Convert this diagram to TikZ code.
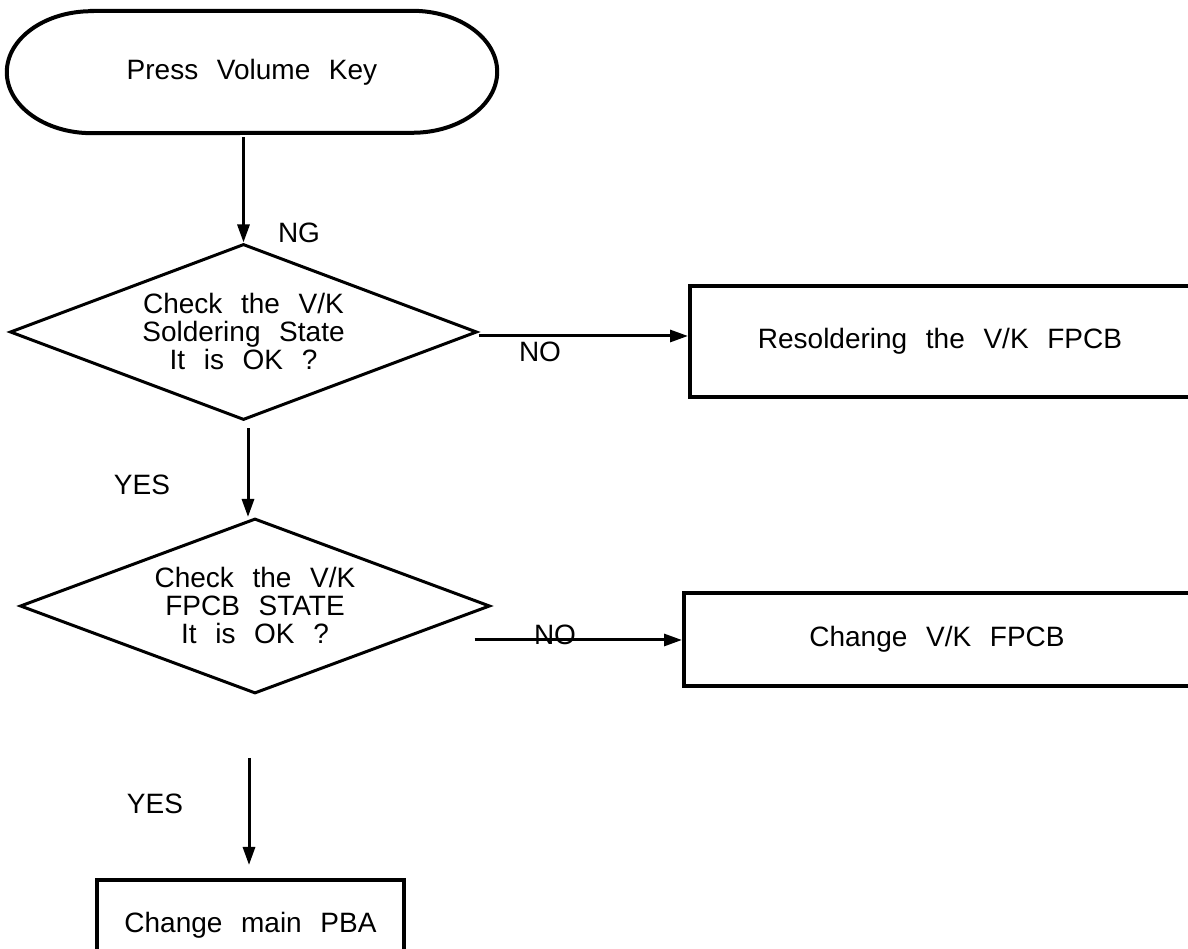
\documentclass[tikz,border=0pt]{standalone}
\usepackage{fontspec}
\setmainfont{Liberation Sans}[WordSpace=2.4]
\usetikzlibrary{arrows.meta, positioning, shapes.geometric}
\tikzset{
  arrowK/.style={-{Triangle[length=18pt, width=12pt]}, line width=3pt},
  boxK/.style={rectangle, draw, line width=4pt, align=center, inner sep=0pt},
  decK/.style={diamond, draw, line width=3pt, aspect=2.65, align=center, inner sep=0pt,
               minimum width=467pt, minimum height=176pt},
  termK/.style={line width=4pt},
  lbl/.style={inner sep=0pt},
}

\begin{document}
\begin{tikzpicture}[x=1pt, y=1pt, font=\fontsize{28pt}{28pt}\selectfont]
  \useasboundingbox (0,0) rectangle (1188,949);
  \clip (0,0) rectangle (1188,949);

  % start
  \node[inner sep=0pt, minimum width=490pt, minimum height=122pt] (press) at (252,877) {Press Volume Key};
  \draw[termK] ([xshift=85pt]press.north west) -- ([xshift=-85pt]press.north east)
    arc[start angle=90, end angle=-90, x radius=85pt, y radius=61pt]
    -- ([xshift=85pt]press.south west)
    arc[start angle=270, end angle=90, x radius=85pt, y radius=61pt] -- cycle;

  % checks
  \node[decK] (chk1) at (243.5,617) {Check the V/K\\Soldering State\\It is OK ?};
  \node[decK, minimum width=470pt, minimum height=175pt] (chk2) at (255,343) {Check the V/K\\FPCB STATE\\It is OK ?};

  % actions
  \node[boxK, minimum width=500pt, minimum height=111pt] (fix1) at (940,607.5) {Resoldering the V/K FPCB};
  \node[boxK, minimum width=506pt, minimum height=93pt] (fix2) at (937,309.5) {Change V/K FPCB};
  \node[boxK, minimum width=307pt, minimum height=90pt] (pba) at (250.5,24) {Change main PBA};

  % arrows
  \draw[arrowK] ([yshift=-4pt]press.south -| chk1.north) -- (chk1.north);
  \draw[arrowK] ([yshift=-4pt]chk1.east) -- ([yshift=-4pt]chk1.east -| fix1.west);
  \draw[arrowK] ([shift={(4.5pt,-7pt)}]chk1.south) -- ([xshift=-7pt]chk2.north);
  \draw[arrowK] ([shift={(-17pt,-34pt)}]chk2.east) -- ([yshift=-34pt]chk2.east -| fix2.west);
  \coordinate (gap3) at (249,191);
  \draw[arrowK, shorten >=13pt] (gap3) -- (gap3 |- pba.north);

  % labels
  \node[lbl] (ng) at (299,716) {NG};
  \node[lbl] (no1) at (540,597) {NO};
  \node[lbl] (yes1) at (142,464) {YES};
  \node[lbl] (no2) at (555,314) {NO};
  \node[lbl] (yes2) at (155,145) {YES};
\end{tikzpicture}
\end{document}
